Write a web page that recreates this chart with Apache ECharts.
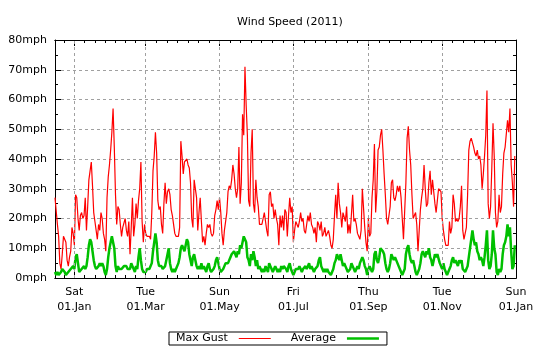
<!DOCTYPE html>
<html>
<head>
<meta charset="utf-8">
<script src="https://cdn.jsdelivr.net/npm/echarts@6/dist/echarts.min.js"></script>
<style>
  html, body { margin: 0; padding: 0; background: #ffffff; }
  #chart { width: 540px; height: 350px; }
</style>
</head>
<body>
<div id="chart"></div>
<script>
// Daily readings, first value is 16 Dec 2010, last is 31 Dec 2011
const firstDay = '2010-12-16';

// Highest gust of each day (mph)
const maxGust = [
  // Dec 2010 (16th onwards)
  27, 27, 18, 14, 5, 3, 8, 14, 14, 12, 6, 4, 7, 9, 17, 15,
  // Jan - Feb
  11, 28, 27, 20, 16, 21, 22, 20, 21, 27, 16, 24, 33, 36, 39, 31, 22, 19, 16, 13,
  18, 16, 22, 20, 15, 13, 9, 27, 34, 38, 43, 49, 57, 44, 28, 18, 24, 23, 18, 14,
  17, 17, 20, 16, 14, 19, 8, 17, 27,
  14, 18, 25, 20, 26, 30, 39, 19, 12, 18,
  // Mar - Apr
  15, 14, 14, 14, 13, 22, 36, 41, 49, 42, 26, 23, 24, 18, 15, 25, 32, 25, 29, 30,
  28, 23, 21, 18, 15, 14, 14, 14, 17, 46, 41, 35, 39, 39, 40, 38, 37, 32, 20, 17,
  33, 33, 27, 16, 22, 27, 19, 12, 14, 11, 15, 18, 17,
  // May - Jun
  18, 15, 14, 15, 21, 23, 26, 23, 27, 22, 15, 11, 16, 16, 22, 29, 31, 30, 33, 38,
  35, 30, 27, 30, 44, 25, 32, 55, 48, 71, 58, 48, 26, 24, 42, 50, 25, 22, 33, 27,
  24, 18, 18, 18, 20, 22, 19, 16, 14, 28, 29, 24, 25, 20, 23, 20, 18, 11, 21, 17,
  21, 16, 23,
  // Jul - Aug
  22, 14, 21, 27, 22, 24, 12, 16, 19, 19, 17, 19, 22, 19, 20, 16, 15, 15, 21, 19,
  22, 18, 17, 15, 17, 12, 19, 18, 16, 19, 14, 15, 17, 14, 15, 16, 14, 11, 10, 13,
  21, 28, 20, 32, 25, 22, 17, 22, 22, 19, 24, 15, 18, 15, 15, 28, 19, 20, 18, 15,
  14, 13, 16, 30,
  // Sep - Oct
  30, 17, 12, 9, 20, 14, 15, 27, 33, 45, 22, 29, 43, 44, 48, 50, 43, 35, 28, 20,
  18, 18, 24, 32, 33, 27, 26, 28, 31, 29, 31, 27, 20, 13, 13, 32, 47, 51, 43, 38,
  28, 20, 20, 22, 18, 9, 16, 23, 27, 30, 38, 30, 24, 25, 32, 36, 28, 33, 29, 25,
  22, 26, 30,
  // Nov - Dec
  30, 29, 20, 16, 13, 11, 11, 11, 19, 15, 17, 28, 25, 19, 20, 19, 20, 24, 31, 16,
  13, 15, 17, 28, 43, 46, 47, 47, 44, 42, 41, 43, 40, 41, 38, 30, 35, 41, 48, 63,
  25, 20, 24, 37, 52, 41, 22, 17, 19, 28, 22, 24, 35, 42, 44, 44, 53, 49, 57, 38,
  32, 24, 41
];

// Mean wind speed of each day (mph)
const average = [
  // Dec 2010 (16th onwards)
  2, 1, 2, 1, 0.5, 2, 3, 3, 2, 1, 1, 2, 2, 3, 3, 4,
  // Jan - Feb
  3, 7, 8, 5, 2, 2, 3, 3, 4, 3, 4, 7, 11, 13, 12, 9, 6, 4, 3, 3,
  4, 5, 4, 5, 4, 2, 1, 3, 7, 10, 12, 14, 14, 10, 4, 2, 4, 3, 3, 3,
  3, 4, 4, 4, 3, 3, 3, 5, 4,
  3, 2, 4, 3, 7, 10, 6, 3, 2, 2,
  // Mar - Apr
  2, 3, 3, 3, 3, 5, 9, 12, 15, 12, 6, 4, 4, 4, 3, 3, 4, 6, 8, 10,
  5, 3, 2, 3, 2, 3, 3, 5, 7, 10, 11, 11, 9, 11, 13, 12, 8, 6, 4, 7,
  8, 6, 4, 3, 4, 3, 5, 3, 4, 3, 2, 4, 5,
  // May - Jun
  3, 2, 2, 3, 4, 6, 7, 5, 3, 2, 2, 3, 4, 5, 5, 5, 6, 7, 8, 8,
  9, 8, 7, 9, 8, 11, 10, 12, 14, 14, 12, 7, 6, 4, 8, 6, 9, 7, 4, 6,
  3, 4, 3, 2, 3, 2, 4, 3, 2, 5, 4, 3, 2, 3, 4, 3, 2, 3, 2, 4,
  3, 4, 4,
  // Jul - Aug
  3, 2, 4, 5, 3, 2, 1, 2, 3, 3, 3, 4, 3, 2, 3, 3, 4, 3, 4, 5,
  3, 4, 3, 2, 3, 3, 4, 6, 7, 4, 3, 2, 3, 2, 3, 2, 1.5, 1, 2, 3,
  5, 6, 8, 7, 6, 8, 6, 4, 5, 4, 3, 2, 2, 3, 5, 4, 3, 2, 3, 4,
  3, 5, 6, 7,
  // Sep - Oct
  6, 4, 3, 1, 3, 4, 3, 2, 3, 8, 9, 6, 5, 7, 10, 10, 9, 8, 5, 3,
  2, 3, 5, 8, 7, 6, 7, 6, 5, 4, 3, 2, 1, 1, 3, 8, 10, 11, 8, 6,
  5, 6, 4, 2, 1, 2, 3, 5, 8, 9, 8, 7, 9, 8, 10, 7, 6, 4, 6, 8,
  7, 8, 8,
  // Nov - Dec
  5, 4, 3, 5, 3, 2, 1, 2, 3, 4, 6, 7, 5, 6, 6, 4, 6, 5, 6, 3,
  3, 2, 3, 4, 7, 10, 13, 16, 13, 11, 12, 9, 8, 6, 7, 6, 4, 7, 11, 16,
  6, 3, 4, 8, 16, 10, 8, 2, 1, 3, 2, 3, 8, 11, 12, 14, 18, 14, 17, 9,
  3, 4, 11
];

// Labelled dates on the time axis and their captions
const tickDates = ['2011-01-01', '2011-03-01', '2011-05-01', '2011-07-01',
                   '2011-09-01', '2011-11-01', '2012-01-01'];
const tickLabels = ['Sat\n01.Jan', 'Tue\n01.Mar', 'Sun\n01.May', 'Fri\n01.Jul',
                    'Thu\n01.Sep', 'Tue\n01.Nov', 'Sun\n01.Jan'];

const seriesNames = ['Max Gust', 'Average'];
const yUnit = 'mph';

const DAY = 86400000;
const FONT = 'DejaVu Sans';
const t0 = Date.parse(firstDay);
const axisMin = t0;
const axisMax = Date.parse(tickDates[tickDates.length - 1]);
const majorTs = tickDates.map(d => Date.parse(d));

// minor ticks: seven steps between labelled dates
const minorTs = [];
for (let i = 0; i < majorTs.length - 1; i++) {
  const step = (majorTs[i + 1] - majorTs[i]) / 7;
  if (i === 0) {
    const before = [];
    for (let t = majorTs[0] - step; t > axisMin; t -= step) before.unshift(t);
    minorTs.push(...before);
  }
  for (let k = 1; k < 7; k++) minorTs.push(majorTs[i] + k * step);
}

const toPairs = arr => arr.map((v, i) => [t0 + i * DAY, v]);

const black = '#000000';
const gridColor = '#a0a0a0';
const gridLine = { show: true, lineStyle: { color: gridColor, width: 1, type: [3, 3] } };

// time runs along a plain numeric axis (milliseconds)
function timeAxis(position, ticks, len, withLabels) {
  return {
    type: 'value', position: position, min: axisMin, max: axisMax, scale: true,
    axisLine: { show: true, onZero: false, lineStyle: { color: black, width: 1 } },
    axisTick: { show: true, inside: true, length: len, customValues: ticks,
                lineStyle: { color: black, width: 1 } },
    axisLabel: withLabels ? {
      show: true, customValues: majorTs, margin: 7, lineHeight: 15,
      fontFamily: FONT, fontSize: 11, color: black, hideOverlap: false,
      showMinLabel: true, showMaxLabel: true,
      formatter: v => tickLabels[majorTs.indexOf(v)] || ''
    } : { show: false },
    splitLine: { show: false }
  };
}
function valueAxis(position, withLabels) {
  return {
    type: 'value', position: position, min: 0, max: 80, interval: 10,
    axisLine: { show: true, onZero: false, lineStyle: { color: black, width: 1 } },
    axisTick: { show: true, inside: true, length: 6, lineStyle: { color: black } },
    minorTick: { show: true, splitNumber: 2, length: 3, lineStyle: { color: black } },
    axisLabel: withLabels ? {
      show: true, margin: 8, fontFamily: FONT, fontSize: 11, color: black,
      formatter: '{value}' + yUnit
    } : { show: false },
    splitLine: withLabels ? gridLine : { show: false }
  };
}

const chart = echarts.init(document.getElementById('chart'), null, { renderer: 'canvas' });
chart.setOption({
  animation: false,
  backgroundColor: '#ffffff',
  title: {
    text: 'Wind Speed (2011)', left: 232, top: 12,
    textStyle: { fontFamily: FONT, fontSize: 11, fontWeight: 'normal', color: black }
  },
  grid: { left: 55, right: 24, top: 40, bottom: 72, containLabel: false },
  xAxis: [
    timeAxis('bottom', majorTs, 6, true),
    timeAxis('bottom', minorTs, 3, false),
    timeAxis('top', majorTs, 6, false),
    timeAxis('top', minorTs, 3, false)
  ],
  yAxis: [valueAxis('left', true), valueAxis('right', false)],
  legend: {
    left: 169, top: 332, orient: 'horizontal', align: 'right',
    padding: [1, 8, 1, 7], itemGap: 20, itemWidth: 32, itemHeight: 12,
    borderColor: black, borderWidth: 1, selectedMode: false,
    textStyle: { fontFamily: FONT, fontSize: 11, color: black, padding: [0, 6, 0, 0] },
    data: [
      { name: seriesNames[0], icon: 'path://M0,0H32V1H0Z', itemStyle: { color: '#ff0000' } },
      { name: seriesNames[1], icon: 'path://M0,0H32V2.5H0Z', itemStyle: { color: '#00c000' } }
    ]
  },
  series: [
    {
      // vertical grid at the labelled dates, kept underneath the data
      name: 'grid', type: 'line', data: [], z: 1, silent: true,
      markLine: {
        silent: true, symbol: 'none', label: { show: false }, animation: false,
        lineStyle: { color: gridColor, width: 1, type: [3, 3] },
        data: majorTs.slice(0, -1).map(t => ({ xAxis: t }))
      }
    },
    {
      name: seriesNames[0], type: 'line', xAxisIndex: 0, yAxisIndex: 0,
      data: toPairs(maxGust), symbol: 'none', showSymbol: false,
      lineStyle: { color: '#ff0000', width: 1.2 }, itemStyle: { color: '#ff0000' },
      z: 2
    },
    {
      name: seriesNames[1], type: 'line', xAxisIndex: 0, yAxisIndex: 0,
      data: toPairs(average), symbol: 'none', showSymbol: false,
      lineStyle: { color: '#00c000', width: 2.5 }, itemStyle: { color: '#00c000' },
      z: 3
    }
  ]
});
</script>
</body>
</html>
